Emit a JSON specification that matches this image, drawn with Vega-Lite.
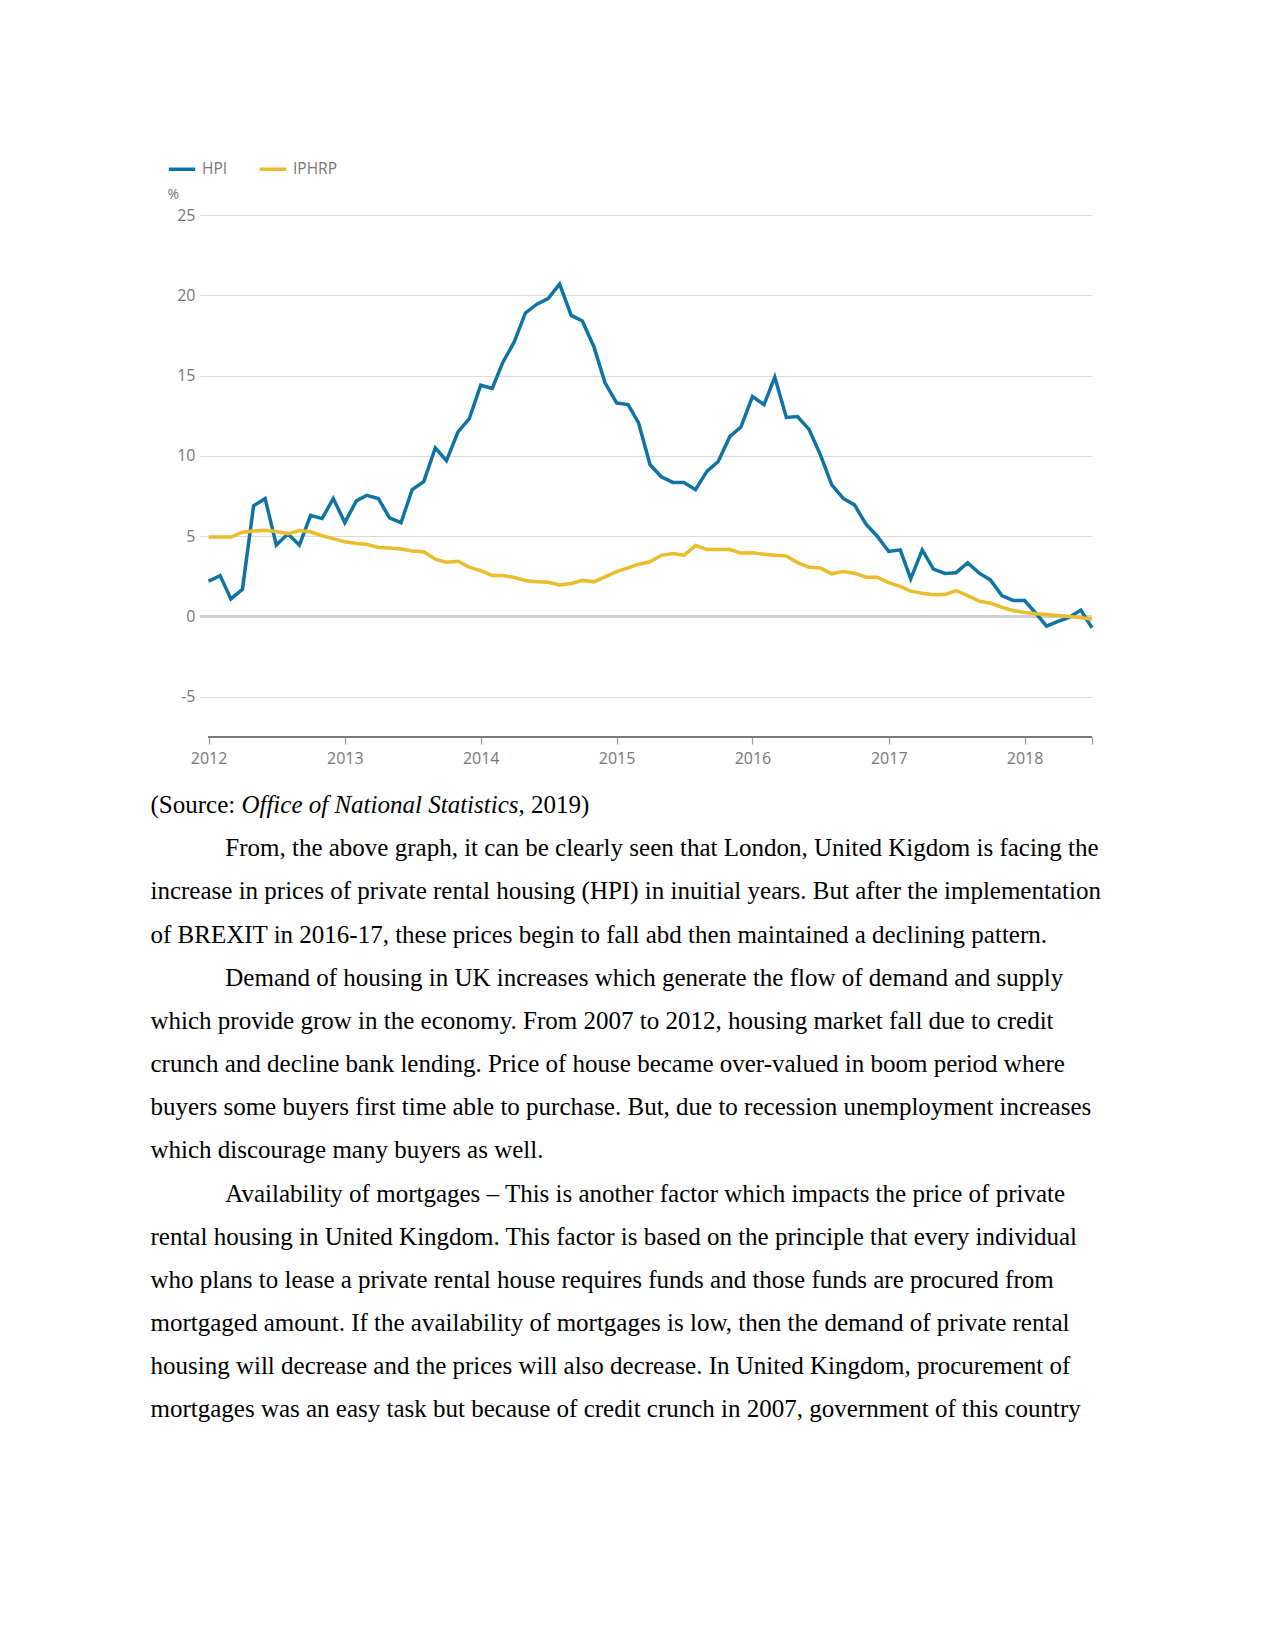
{
  "$schema": "https://vega.github.io/schema/vega-lite/v6.json",
  "width": 892,
  "height": 522,
  "autosize": {"type": "none"},
  "padding": {"left": 200, "top": 215, "right": 183, "bottom": 914},
  "background": "white",
  "config": {
    "view": {"stroke": null},
    "font": "Open Sans",
    "legend": {
      "orient": "none",
      "legendX": -33,
      "legendY": -61,
      "direction": "horizontal",
      "symbolType": "stroke",
      "symbolStrokeWidth": 3.5,
      "symbolSize": 700,
      "labelFont": "Open Sans",
      "labelFontSize": 15.5,
      "labelColor": "#777777",
      "columnPadding": 24,
      "labelOffset": 5
    }
  },
  "datasets": {
    "series": [
      {"date": "2012-01-01", "HPI": 2.2, "IPHRP": 4.95},
      {"date": "2012-02-01", "HPI": 2.55, "IPHRP": 4.95},
      {"date": "2012-03-01", "HPI": 1.1, "IPHRP": 4.95},
      {"date": "2012-04-01", "HPI": 1.7, "IPHRP": 5.25},
      {"date": "2012-05-01", "HPI": 6.9, "IPHRP": 5.32},
      {"date": "2012-06-01", "HPI": 7.35, "IPHRP": 5.37},
      {"date": "2012-07-01", "HPI": 4.45, "IPHRP": 5.3},
      {"date": "2012-08-01", "HPI": 5.15, "IPHRP": 5.15},
      {"date": "2012-09-01", "HPI": 4.45, "IPHRP": 5.35},
      {"date": "2012-10-01", "HPI": 6.3, "IPHRP": 5.28},
      {"date": "2012-11-01", "HPI": 6.1, "IPHRP": 5.03},
      {"date": "2012-12-01", "HPI": 7.35, "IPHRP": 4.85},
      {"date": "2013-01-01", "HPI": 5.85, "IPHRP": 4.65},
      {"date": "2013-02-01", "HPI": 7.2, "IPHRP": 4.55},
      {"date": "2013-03-01", "HPI": 7.55, "IPHRP": 4.5},
      {"date": "2013-04-01", "HPI": 7.35, "IPHRP": 4.3},
      {"date": "2013-05-01", "HPI": 6.15, "IPHRP": 4.27},
      {"date": "2013-06-01", "HPI": 5.85, "IPHRP": 4.2},
      {"date": "2013-07-01", "HPI": 7.9, "IPHRP": 4.08},
      {"date": "2013-08-01", "HPI": 8.4, "IPHRP": 4.03},
      {"date": "2013-09-01", "HPI": 10.5, "IPHRP": 3.57},
      {"date": "2013-10-01", "HPI": 9.7, "IPHRP": 3.38},
      {"date": "2013-11-01", "HPI": 11.5, "IPHRP": 3.44},
      {"date": "2013-12-01", "HPI": 12.3, "IPHRP": 3.08},
      {"date": "2014-01-01", "HPI": 14.4, "IPHRP": 2.86},
      {"date": "2014-02-01", "HPI": 14.2, "IPHRP": 2.56},
      {"date": "2014-03-01", "HPI": 15.8, "IPHRP": 2.55},
      {"date": "2014-04-01", "HPI": 17.1, "IPHRP": 2.43},
      {"date": "2014-05-01", "HPI": 18.9, "IPHRP": 2.25},
      {"date": "2014-06-01", "HPI": 19.45, "IPHRP": 2.17},
      {"date": "2014-07-01", "HPI": 19.8, "IPHRP": 2.13},
      {"date": "2014-08-01", "HPI": 20.7, "IPHRP": 1.96},
      {"date": "2014-09-01", "HPI": 18.75, "IPHRP": 2.06},
      {"date": "2014-10-01", "HPI": 18.4, "IPHRP": 2.25},
      {"date": "2014-11-01", "HPI": 16.8, "IPHRP": 2.16},
      {"date": "2014-12-01", "HPI": 14.55, "IPHRP": 2.47},
      {"date": "2015-01-01", "HPI": 13.3, "IPHRP": 2.8},
      {"date": "2015-02-01", "HPI": 13.2, "IPHRP": 3.03},
      {"date": "2015-03-01", "HPI": 12.05, "IPHRP": 3.26},
      {"date": "2015-04-01", "HPI": 9.45, "IPHRP": 3.41},
      {"date": "2015-05-01", "HPI": 8.7, "IPHRP": 3.81},
      {"date": "2015-06-01", "HPI": 8.35, "IPHRP": 3.92},
      {"date": "2015-07-01", "HPI": 8.35, "IPHRP": 3.81},
      {"date": "2015-08-01", "HPI": 7.9, "IPHRP": 4.42},
      {"date": "2015-09-01", "HPI": 9.05, "IPHRP": 4.17},
      {"date": "2015-10-01", "HPI": 9.65, "IPHRP": 4.17},
      {"date": "2015-11-01", "HPI": 11.2, "IPHRP": 4.17},
      {"date": "2015-12-01", "HPI": 11.8, "IPHRP": 3.96},
      {"date": "2016-01-01", "HPI": 13.7, "IPHRP": 3.97},
      {"date": "2016-02-01", "HPI": 13.2, "IPHRP": 3.88},
      {"date": "2016-03-01", "HPI": 14.9, "IPHRP": 3.81},
      {"date": "2016-04-01", "HPI": 12.4, "IPHRP": 3.77},
      {"date": "2016-05-01", "HPI": 12.45, "IPHRP": 3.36},
      {"date": "2016-06-01", "HPI": 11.65, "IPHRP": 3.07},
      {"date": "2016-07-01", "HPI": 10.1, "IPHRP": 3.02},
      {"date": "2016-08-01", "HPI": 8.2, "IPHRP": 2.66},
      {"date": "2016-09-01", "HPI": 7.35, "IPHRP": 2.81},
      {"date": "2016-10-01", "HPI": 6.95, "IPHRP": 2.7},
      {"date": "2016-11-01", "HPI": 5.75, "IPHRP": 2.45},
      {"date": "2016-12-01", "HPI": 5.0, "IPHRP": 2.44},
      {"date": "2017-01-01", "HPI": 4.05, "IPHRP": 2.11},
      {"date": "2017-02-01", "HPI": 4.15, "IPHRP": 1.88},
      {"date": "2017-03-01", "HPI": 2.35, "IPHRP": 1.58},
      {"date": "2017-04-01", "HPI": 4.15, "IPHRP": 1.45},
      {"date": "2017-05-01", "HPI": 2.95, "IPHRP": 1.35},
      {"date": "2017-06-01", "HPI": 2.68, "IPHRP": 1.37},
      {"date": "2017-07-01", "HPI": 2.73, "IPHRP": 1.62},
      {"date": "2017-08-01", "HPI": 3.35, "IPHRP": 1.3},
      {"date": "2017-09-01", "HPI": 2.7, "IPHRP": 0.96},
      {"date": "2017-10-01", "HPI": 2.28, "IPHRP": 0.83},
      {"date": "2017-11-01", "HPI": 1.3, "IPHRP": 0.58},
      {"date": "2017-12-01", "HPI": 1.0, "IPHRP": 0.38},
      {"date": "2018-01-01", "HPI": 1.0, "IPHRP": 0.25},
      {"date": "2018-02-01", "HPI": 0.18, "IPHRP": 0.17},
      {"date": "2018-03-01", "HPI": -0.6, "IPHRP": 0.12},
      {"date": "2018-04-01", "HPI": -0.3, "IPHRP": 0.06},
      {"date": "2018-05-01", "HPI": -0.05, "IPHRP": 0.0},
      {"date": "2018-06-01", "HPI": 0.4, "IPHRP": -0.08},
      {"date": "2018-07-01", "HPI": -0.7, "IPHRP": -0.15}
    ],
    "body": [
      {"row": 0, "indent": 0, "line": "(Source: "},
      {"row": 1, "indent": 1, "line": "From, the above graph, it can be clearly seen that London, United Kigdom is facing the"},
      {"row": 2, "indent": 0, "line": "increase in prices of private rental housing (HPI) in inuitial years. But after the implementation"},
      {"row": 3, "indent": 0, "line": "of BREXIT in 2016-17, these prices begin to fall abd then maintained a declining pattern."},
      {"row": 4, "indent": 1, "line": "Demand of housing in UK increases which generate the flow of demand and supply"},
      {"row": 5, "indent": 0, "line": "which provide grow in the economy. From 2007 to 2012, housing market fall due to credit"},
      {"row": 6, "indent": 0, "line": "crunch and decline bank lending. Price of house became over-valued in boom period where"},
      {"row": 7, "indent": 0, "line": "buyers some buyers first time able to purchase.  But, due to recession unemployment increases"},
      {"row": 8, "indent": 0, "line": "which discourage many buyers as well."},
      {"row": 9, "indent": 1, "line": "Availability of mortgages – This is another factor which impacts the price of private"},
      {"row": 10, "indent": 0, "line": "rental housing in United Kingdom. This factor is based on the principle that every individual"},
      {"row": 11, "indent": 0, "line": "who plans to lease a private rental house requires funds and those funds are procured from"},
      {"row": 12, "indent": 0, "line": "mortgaged amount. If the availability of mortgages is low, then the demand of private rental"},
      {"row": 13, "indent": 0, "line": "housing will decrease and the prices will also decrease. In United Kingdom, procurement of"},
      {"row": 14, "indent": 0, "line": "mortgages was an easy task but because of credit crunch in 2007, government of this country"}
    ],
    "srcItalic": [{"row": 0, "indent": 0, "line": "Office of National Statistics"}],
    "srcEnd": [{"row": 0, "indent": 0, "line": ", 2019)"}]
  },
  "layer": [
    {
      "data": {"name": "series"},
      "transform": [{"fold": ["HPI", "IPHRP"], "as": ["series", "value"]}],
      "layer": [
        {
          "mark": {"type": "rule", "color": "#cfcfcf", "strokeWidth": 3},
          "encoding": {"y": {"datum": 0, "type": "quantitative"}}
        },
        {
          "mark": {"type": "rule", "color": "#7a7a7a", "strokeWidth": 1.5},
          "encoding": {
            "x": {"datum": {"year": 2012, "month": 1, "date": 1, "utc": true}, "type": "temporal"},
            "x2": {"datum": {"year": 2018, "month": 7, "date": 1, "utc": true}},
            "y": {"datum": -7.5, "type": "quantitative"}
          }
        },
        {
          "transform": [{"filter": "datum.series === 'HPI'"}],
          "mark": {"type": "line", "strokeWidth": 3.5},
          "encoding": {
            "x": {
              "field": "date", "type": "temporal",
              "scale": {"type": "utc", "domain": [{"year": 2011, "month": 12, "date": 9, "utc": true}, {"year": 2018, "month": 7, "date": 1, "utc": true}]},
              "axis": {
                "title": null, "grid": false, "domain": false,
                "values": [
                  {"year": 2012, "month": 1, "date": 1, "utc": true},
                  {"year": 2013, "month": 1, "date": 1, "utc": true},
                  {"year": 2014, "month": 1, "date": 1, "utc": true},
                  {"year": 2015, "month": 1, "date": 1, "utc": true},
                  {"year": 2016, "month": 1, "date": 1, "utc": true},
                  {"year": 2017, "month": 1, "date": 1, "utc": true},
                  {"year": 2018, "month": 1, "date": 1, "utc": true},
                  {"year": 2018, "month": 7, "date": 1, "utc": true}
                ],
                "labelExpr": "utcFormat(datum.value, '%m') == '07' ? '' : utcFormat(datum.value, '%Y')",
                "tickColor": "#9a9a9a", "tickSize": 7, "tickWidth": 1.2,
                "labelPadding": 6, "labelFont": "Open Sans", "labelFontSize": 16,
                "labelColor": "#777777", "labelFlush": false, "labelOverlap": false
              }
            },
            "y": {
              "field": "value", "type": "quantitative",
              "scale": {"domain": [-7.5, 25], "nice": false, "zero": false},
              "axis": {
                "title": "%", "titleAngle": 0, "titleX": -33, "titleY": -21,
                "titleAlign": "left", "titleBaseline": "middle",
                "titleFont": "Open Sans", "titleFontSize": 14, "titleFontWeight": "normal", "titleColor": "#777777",
                "values": [-5, 0, 5, 10, 15, 20, 25],
                "labelExpr": "'' + datum.value",
                "domain": false, "ticks": false, "labelPadding": 5,
                "labelFont": "Open Sans", "labelFontSize": 16, "labelColor": "#777777",
                "grid": true, "gridColor": "#d9d9d9", "gridWidth": 1
              }
            },
            "color": {
              "field": "series", "type": "nominal",
              "scale": {"domain": ["HPI", "IPHRP"], "range": ["#0f74a3", "#e9bd2b"]},
              "legend": {"title": null}
            }
          }
        },
        {
          "transform": [{"filter": "datum.series === 'IPHRP'"}],
          "mark": {"type": "line", "strokeWidth": 3.5},
          "encoding": {
            "x": {"field": "date", "type": "temporal"},
            "y": {"field": "value", "type": "quantitative"},
            "color": {"field": "series", "type": "nominal"}
          }
        }
      ]
    },
    {
      "layer": [
        {
          "data": {"name": "body"},
          "mark": {"type": "text", "align": "left", "baseline": "alphabetic", "font": "Liberation Serif", "fontSize": 25, "color": "#000000"},
          "encoding": {
            "x": {"field": "indent", "type": "quantitative", "scale": {"domain": [0, 1], "range": [-49.5, 25.3], "nice": false, "zero": false}, "axis": null},
            "y": {"field": "row", "type": "quantitative", "scale": {"domain": [0, 14], "range": [598, 1202.4], "nice": false, "zero": false}, "axis": null},
            "text": {"field": "line"}
          }
        },
        {
          "data": {"name": "srcItalic"},
          "mark": {"type": "text", "align": "left", "baseline": "alphabetic", "font": "Liberation Serif", "fontStyle": "italic", "fontSize": 25, "color": "#000000", "dx": 90.9},
          "encoding": {
            "x": {"field": "indent", "type": "quantitative"},
            "y": {"field": "row", "type": "quantitative"},
            "text": {"field": "line"}
          }
        },
        {
          "data": {"name": "srcEnd"},
          "mark": {"type": "text", "align": "left", "baseline": "alphabetic", "font": "Liberation Serif", "fontSize": 25, "color": "#000000", "dx": 368},
          "encoding": {
            "x": {"field": "indent", "type": "quantitative"},
            "y": {"field": "row", "type": "quantitative"},
            "text": {"field": "line"}
          }
        }
      ]
    }
  ],
  "resolve": {"scale": {"x": "independent", "y": "independent"}, "axis": {"x": "independent", "y": "independent"}}
}
